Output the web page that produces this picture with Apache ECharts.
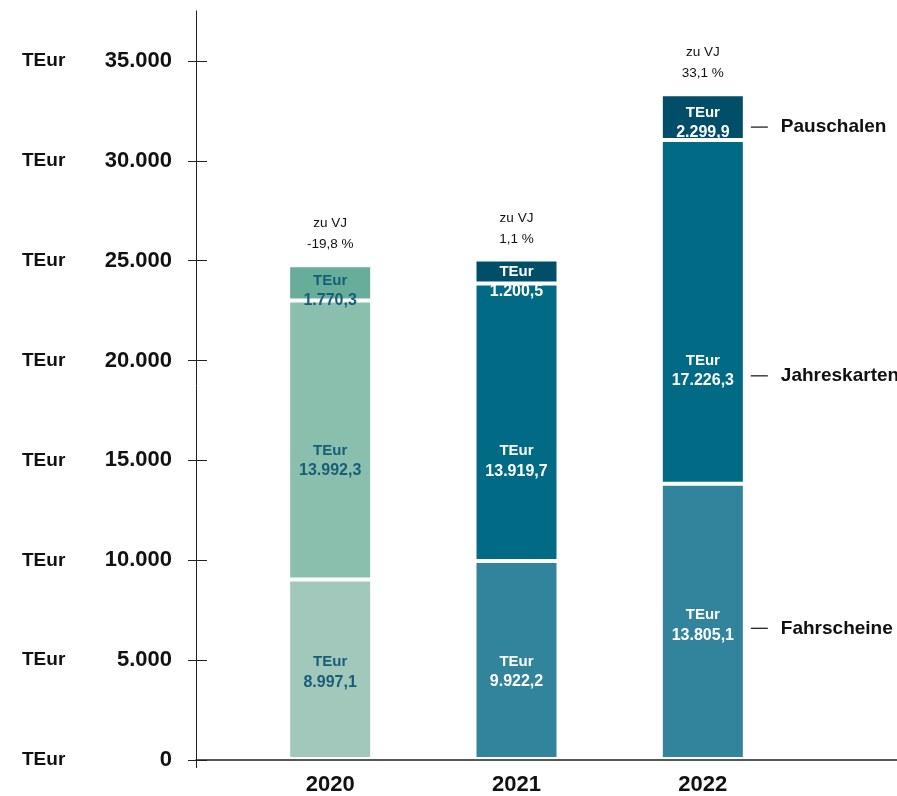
<!DOCTYPE html>
<html lang="de">
<head>
<meta charset="utf-8">
<title>Erlöse nach Ticketart</title>
<script src="https://cdn.jsdelivr.net/npm/echarts@6/dist/echarts.min.js"></script>
<style>
  html, body { margin: 0; padding: 0; background: #fff; }
  #chart { width: 897px; height: 796px; }
</style>
</head>
<body>
<div id="chart"></div>
<script>
// Revenue by ticket type, TEur
const years = ['2020', '2021', '2022'];
const fahrscheine = [8997.1, 9922.2, 13805.1];
const jahreskarten = [13992.3, 13919.7, 17226.3];
const pauschalen = [1770.3, 1200.5, 2299.9];
const changeVsPriorYear = [-19.8, 1.1, 33.1];
const seriesNames = ['Fahrscheine', 'Jahreskarten', 'Pauschalen'];
const yTicks = [0, 5000, 10000, 15000, 20000, 25000, 30000, 35000];
const yMax = 37500;

// colours per year: [Fahrscheine, Jahreskarten, Pauschalen]
const palette = [
  ['#a1c8bb', '#8abfad', '#68ad99'],
  ['#31849c', '#016a84', '#004e68'],
  ['#31849c', '#016a84', '#004e68']
];
const darkText = [true, false, false];
// vertical nudge of the in-bar labels, per series then per year
const labelNudge = [
  [3, 12, 4],
  [21, 39, 59],
  [8, 10, 6]
];
const sideNudge = [7, 64, 10];

const FONT = '"Liberation Sans", Arial, Helvetica, sans-serif';
const INK = '#111';

function de(v, decimals) {
  const neg = v < 0;
  const parts = Math.abs(v).toFixed(decimals).split('.');
  const int = parts[0].replace(/\B(?=(\d{3})+(?!\d))/g, '.');
  return (neg ? '-' : '') + int + (parts[1] ? ',' + parts[1] : '');
}

const valueSets = [fahrscheine, jahreskarten, pauschalen];
const series = [];

valueSets.forEach((vals, k) => {
  series.push({
    name: seriesNames[k],
    type: 'bar',
    stack: 'total',
    xAxisIndex: 1,
    yAxisIndex: 2,
    barWidth: 84,
    barGap: '-100%',
    itemStyle: { borderColor: '#fff', borderWidth: 2 },
    label: {
      show: true,
      position: 'inside',
      fontFamily: FONT,
      formatter: p => {
        const t = darkText[p.dataIndex] ? 'd' : 'w';
        return '{' + t + 'u|TEur}\n{' + t + 'v|' + de(p.value, 1) + '}';
      },
      rich: {
        du: { fontFamily: FONT, fontSize: 15, fontWeight: 'bold', color: '#175e78', lineHeight: 20 },
        dv: { fontFamily: FONT, fontSize: 16, fontWeight: 'bold', color: '#175e78', lineHeight: 20 },
        wu: { fontFamily: FONT, fontSize: 15, fontWeight: 'bold', color: '#ffffff', lineHeight: 20 },
        wv: { fontFamily: FONT, fontSize: 16, fontWeight: 'bold', color: '#ffffff', lineHeight: 20 }
      }
    },
    data: vals.map((v, j) => ({
      value: v,
      itemStyle: { color: palette[j][k] },
      label: { offset: [0, labelNudge[k][j]] }
    }))
  });
});

// change vs. prior year, above each stack
series.push({
  name: 'zu VJ',
  type: 'bar',
  stack: 'total',
  xAxisIndex: 1,
  yAxisIndex: 2,
  barWidth: 84,
  barGap: '-100%',
  silent: true,
  itemStyle: { color: 'rgba(0,0,0,0)', borderWidth: 0 },
  label: {
    show: true,
    position: 'top',
    distance: 10,
    fontFamily: FONT,
    fontSize: 13.5,
    lineHeight: 21,
    color: INK,
    formatter: p => 'zu VJ\n' + de(changeVsPriorYear[p.dataIndex], 1) + ' %'
  },
  data: years.map(() => 0)
});

// series names next to the last stack
valueSets.forEach((vals, k) => {
  series.push({
    name: seriesNames[k] + ' (Beschriftung)',
    type: 'bar',
    stack: 'names',
    xAxisIndex: 1,
    yAxisIndex: 2,
    barWidth: 84,
    barGap: '-100%',
    silent: true,
    itemStyle: { color: 'rgba(0,0,0,0)', borderWidth: 0 },
    label: {
      show: false,
      position: 'right',
      distance: 6,
      formatter: '{l| }{t|' + seriesNames[k] + '}',
      rich: {
        l: { width: 17, height: 1.3, backgroundColor: '#222' },
        t: { fontFamily: FONT, fontSize: 19, fontWeight: 'bold', color: INK, padding: [0, 0, 0, 13] }
      }
    },
    data: vals.map((v, j) => ({
      value: v,
      label: { show: j === vals.length - 1, offset: [0, sideNudge[k]] }
    }))
  });
});

const chart = echarts.init(document.getElementById('chart'), null, { renderer: 'canvas' });
chart.setOption({
  animation: false,
  backgroundColor: '#fff',
  grid: [
    { left: 196, right: 0, top: 11, bottom: 36 },
    { left: 237, right: 101, top: 11, bottom: 36 }
  ],
  xAxis: [
    {
      gridIndex: 0,
      type: 'value',
      min: 0,
      max: 1,
      z: 5,
      axisLine: { show: true, lineStyle: { color: '#222', width: 1.5 } },
      axisTick: { show: true, length: 8, customValues: [0], lineStyle: { color: '#222' } },
      axisLabel: { show: false },
      splitLine: { show: false }
    },
    {
      gridIndex: 1,
      type: 'category',
      data: years,
      axisLine: { show: false },
      axisTick: { show: false },
      axisLabel: { fontFamily: FONT, fontSize: 22, fontWeight: 'bold', color: INK, margin: 15 }
    }
  ],
  yAxis: [
    {
      gridIndex: 0,
      type: 'value',
      position: 'left',
      min: 0,
      max: yMax,
      axisLine: { show: true, lineStyle: { color: '#222', width: 1 } },
      axisTick: { show: true, length: 8, customValues: yTicks, lineStyle: { color: '#222' } },
      splitLine: { show: false },
      axisLabel: {
        customValues: yTicks,
        margin: 24,
        align: 'right',
        formatter: v => '{u|TEur}{n|' + de(v, 0) + '}',
        rich: {
          u: { fontFamily: FONT, fontSize: 19, fontWeight: 'bold', color: INK, width: 70, align: 'left' },
          n: { fontFamily: FONT, fontSize: 22, fontWeight: 'bold', color: INK, width: 80, align: 'right' }
        }
      }
    },
    {
      gridIndex: 0,
      type: 'value',
      position: 'left',
      offset: 0,
      min: 0,
      max: yMax,
      axisLine: { show: false },
      axisTick: { show: true, inside: true, length: 11, customValues: yTicks, lineStyle: { color: '#222' } },
      axisLabel: { show: false },
      splitLine: { show: false }
    },
    {
      gridIndex: 1,
      type: 'value',
      min: 0,
      max: yMax,
      show: false
    }
  ],
  series: series
});
</script>
</body>
</html>
